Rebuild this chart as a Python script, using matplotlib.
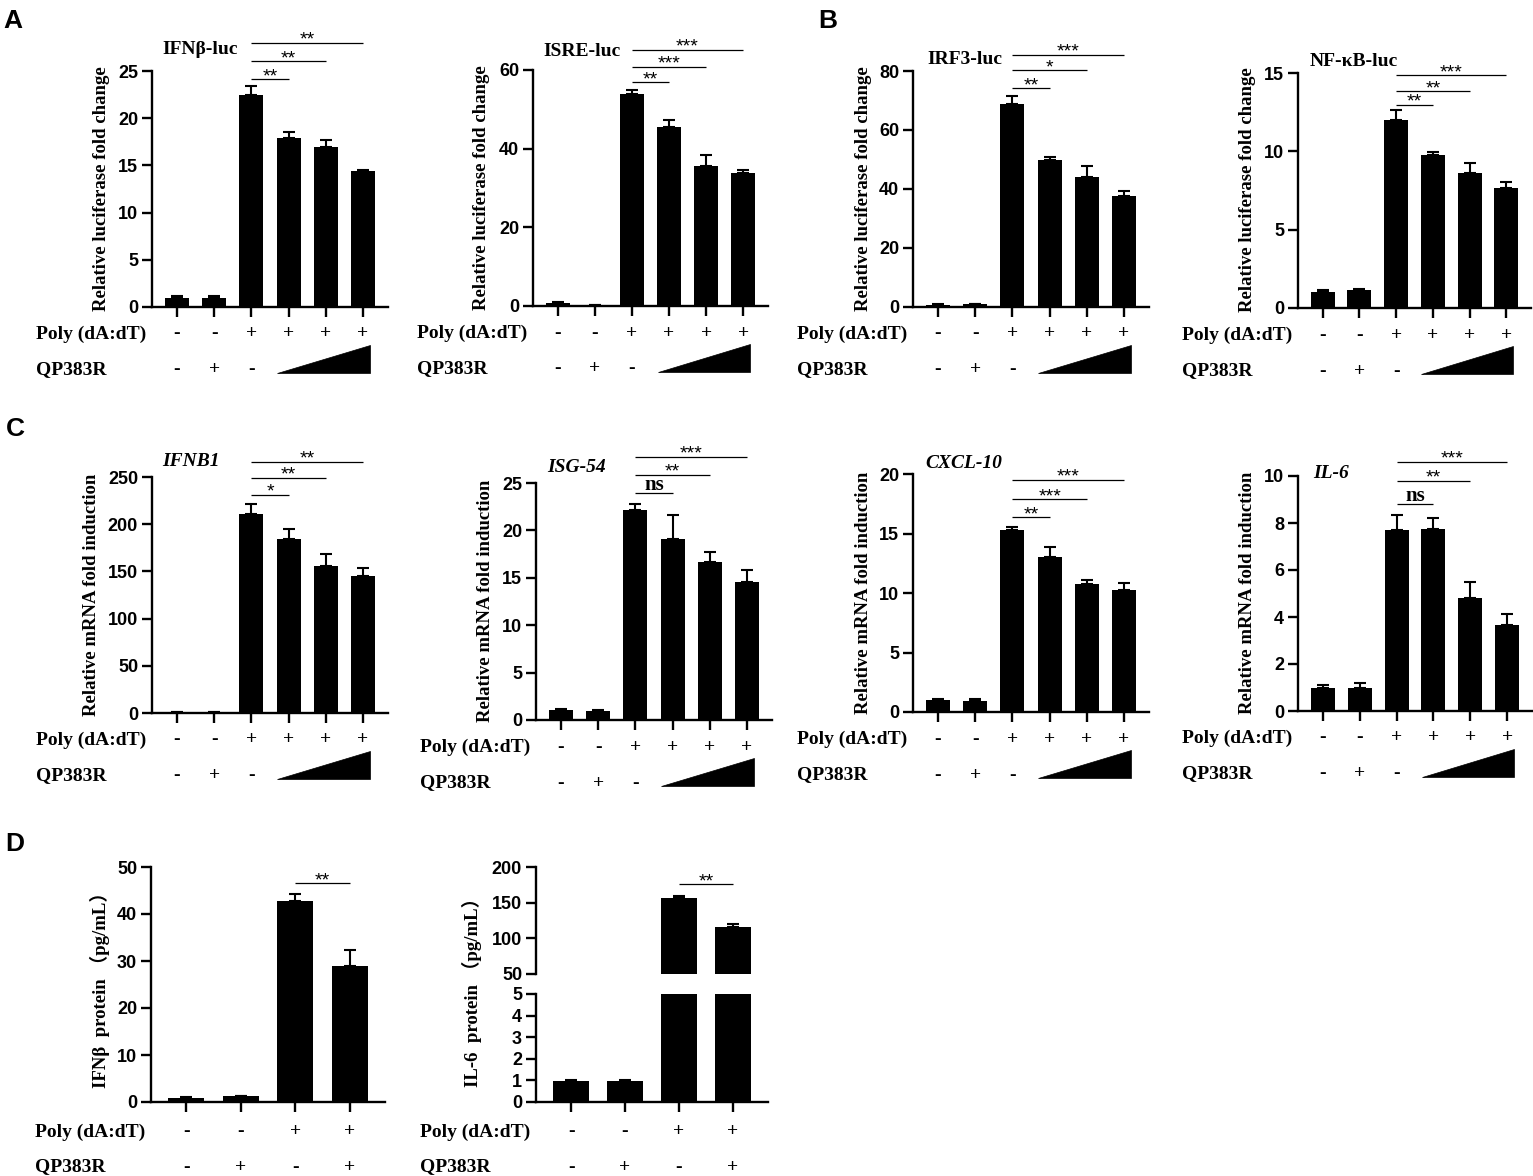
import matplotlib
matplotlib.use('Agg')
import matplotlib.pyplot as plt
from matplotlib import transforms
from matplotlib.patches import Polygon

W, H = 1533, 1176
SERIF = ['Liberation Serif', 'DejaVu Serif']
SERIF_CJK = ['Liberation Serif', 'Noto Sans CJK SC', 'DejaVu Serif']
SANS = ['Liberation Sans', 'DejaVu Sans']
plt.rcParams['font.family'] = SANS

# ---------------- data ----------------
poly6 = ['-', '-', '+', '+', '+', '+']
qp6 = ['-', '+', '-']          # followed by an increasing-dose wedge
poly4 = ['-', '-', '+', '+']
qp4 = ['-', '+', '-', '+']

ifnb_luc_mean = [1.0, 0.95, 22.5, 17.85, 16.95, 14.45]
ifnb_luc_err = [0.13, 0.2, 0.9, 0.7, 0.7, 0.05]
isre_luc_mean = [0.75, 0.25, 53.9, 45.6, 35.6, 33.7]
isre_luc_err = [0.25, 0.08, 1.1, 1.6, 2.7, 0.8]
irf3_luc_mean = [0.8, 0.9, 68.9, 49.8, 44.0, 37.6]
irf3_luc_err = [0.2, 0.2, 2.7, 1.1, 3.8, 1.7]
nfkb_luc_mean = [1.0, 1.12, 12.0, 9.77, 8.64, 7.64]
nfkb_luc_err = [0.12, 0.07, 0.66, 0.17, 0.6, 0.42]

ifnb1_mrna_mean = [1.0, 1.0, 210.5, 184.7, 155.7, 145.1]
ifnb1_mrna_err = [0.3, 0.3, 11.0, 10.6, 13.0, 8.1]
isg54_mrna_mean = [1.02, 0.98, 22.1, 19.07, 16.64, 14.57]
isg54_mrna_err = [0.1, 0.11, 0.67, 2.6, 1.1, 1.23]
cxcl10_mrna_mean = [1.01, 0.96, 15.31, 13.03, 10.76, 10.28]
cxcl10_mrna_err = [0.09, 0.16, 0.2, 0.85, 0.36, 0.53]
il6_mrna_mean = [0.98, 0.98, 7.7, 7.74, 4.79, 3.64]
il6_mrna_err = [0.11, 0.21, 0.65, 0.48, 0.68, 0.5]

ifnb_prot_mean = [0.92, 1.2, 42.84, 28.94]
ifnb_prot_err = [0.14, 0.15, 1.35, 3.5]
il6_prot_mean = [0.975, 0.99, 156.2, 115.7]
il6_prot_err = [0.03, 0.03, 2.8, 4.6]

yt_ifnb_luc = [0, 5, 10, 15, 20, 25]
yt_isre_luc = [0, 20, 40, 60]
yt_irf3_luc = [0, 20, 40, 60, 80]
yt_nfkb_luc = [0, 5, 10, 15]
yt_ifnb1 = [0, 50, 100, 150, 200, 250]
yt_isg54 = [0, 5, 10, 15, 20, 25]
yt_cxcl10 = [0, 5, 10, 15, 20]
yt_il6 = [0, 2, 4, 6, 8, 10]
yt_ifnb_prot = [0, 10, 20, 30, 40, 50]
yt_il6_prot_low = [0, 1, 2, 3, 4, 5]
yt_il6_prot_high = [50, 100, 150, 200]

sig_ifnb_luc = [(2, 3, '**'), (2, 4, '**'), (2, 5, '**')]
sig_isre_luc = [(2, 3, '**'), (2, 4, '***'), (2, 5, '***')]
sig_irf3_luc = [(2, 3, '**'), (2, 4, '*'), (2, 5, '***')]
sig_nfkb_luc = [(2, 3, '**'), (2, 4, '**'), (2, 5, '***')]
sig_ifnb1 = [(2, 3, '*'), (2, 4, '**'), (2, 5, '**')]
sig_isg54 = [(2, 3, 'ns'), (2, 4, '**'), (2, 5, '***')]
sig_cxcl10 = [(2, 3, '**'), (2, 4, '***'), (2, 5, '***')]
sig_il6 = [(2, 3, 'ns'), (2, 4, '**'), (2, 5, '***')]
sig_ifnb_prot = [(2, 3, '**')]
sig_il6_prot = [(2, 3, '**')]

ylab_luc = 'Relative luciferase fold change'
ylab_mrna = 'Relative mRNA fold induction'
ylab_ifnb_prot = 'IFNβ  protein （pg/mL）'
ylab_il6_prot = 'IL-6  protein （pg/mL）'
row1_label = 'Poly (dA:dT)'
row2_label = 'QP383R'

# ---------------- figure ----------------
fig = plt.figure(figsize=(W / 100, H / 100), dpi=100)


def fx(x):
    return x / W


def fy(y):
    return 1 - y / H


def make_ax(box):
    l, t, r, b = box
    return fig.add_axes([l / W, 1 - b / H, (r - l) / W, (b - t) / H])


def style(ax, n, yticks, ylim, bottom=True):
    off = 0.67 if n == 6 else 0.65
    ax.set_xlim(-off, n - 1 + off)
    ax.set_ylim(*ylim)
    ax.set_yticks(yticks, labels=[str(v) for v in yticks],
                  fontweight='bold', fontsize=13, family=SANS)
    ax.spines['top'].set_visible(False)
    ax.spines['right'].set_visible(False)
    ax.spines['left'].set_linewidth(1.7)
    ax.spines['bottom'].set_linewidth(1.7)
    ax.tick_params(axis='y', length=7, width=1.7, pad=3)
    if bottom:
        ax.set_xticks(range(n), labels=[''] * n)
        ax.tick_params(axis='x', length=7, width=1.7)
    else:
        ax.spines['bottom'].set_visible(False)
        ax.set_xticks([])


def draw_bars(ax, mean, err, width):
    n = len(mean)
    x = list(range(n))
    ax.errorbar(x, mean, yerr=[[0] * n, err], fmt='none', ecolor='black',
                elinewidth=1.5, capsize=4.5, capthick=1.5, zorder=1)
    ax.bar(x, mean, width=width, color='black', zorder=2)


def draw_sig(ax, sig, ys, data_y=False):
    trans = ax.transData if data_y else transforms.blended_transform_factory(ax.transData, ax.transAxes)
    for (i, j, lab), y in zip(sig, ys):
        ax.plot([i, j], [y, y], transform=trans, color='black', lw=0.9,
                clip_on=False, solid_capstyle='butt')
        if lab == 'ns':
            t = transforms.offset_copy(trans, fig=fig, y=3, units='dots')
            ax.text((i + j) / 2, y, lab, transform=t, ha='center', va='baseline',
                    family=SERIF, fontweight='bold', fontsize=15)
        else:
            t = transforms.offset_copy(trans, fig=fig, y=-2, units='dots')
            ax.text((i + j) / 2, y, lab, transform=t, ha='center', va='baseline',
                    family=SANS, fontsize=14)


def draw_rows(ax, box, poly, qp, n, offs, wedge=True):
    l, t, r, b = box
    bt = transforms.blended_transform_factory(ax.transData, fig.transFigure)
    for i, s in enumerate(poly):
        ax.text(i, fy(b + offs[0]), s, transform=bt, ha='center', va='center',
                family=SERIF, fontweight='bold', fontsize=14)
    for i, s in enumerate(qp):
        ax.text(i, fy(b + offs[1]), s, transform=bt, ha='center', va='center',
                family=SERIF, fontweight='bold', fontsize=14)
    if wedge:
        tri = Polygon([[2.69, fy(b + 66)], [5.19, fy(b + 66)], [5.19, fy(b + 38)]],
                      closed=True, transform=bt, facecolor='black',
                      edgecolor='black', lw=0.5, clip_on=False)
        ax.add_patch(tri)
    fig.text(fx(l - 116), fy(b + offs[0]), row1_label, ha='left', va='center',
             family=SERIF, fontweight='bold', fontsize=14)
    fig.text(fx(l - 116), fy(b + offs[1]), row2_label, ha='left', va='center',
             family=SERIF, fontweight='bold', fontsize=14)


panels = [
    dict(box=(152, 71, 388, 307), mean=ifnb_luc_mean, err=ifnb_luc_err, yt=yt_ifnb_luc,
         title='IFNβ-luc', it=False, txy=(162, 50), yl=ylab_luc, ylxy=(102, 189),
         sig=sig_ifnb_luc, sy=[0.966, 1.042, 1.119]),
    dict(box=(533, 70, 768, 306), mean=isre_luc_mean, err=isre_luc_err, yt=yt_isre_luc,
         title='ISRE-luc', it=False, txy=(543, 52), yl=ylab_luc, ylxy=(482, 188),
         sig=sig_isre_luc, sy=[0.949, 1.013, 1.085]),
    dict(box=(913, 71, 1149, 307), mean=irf3_luc_mean, err=irf3_luc_err, yt=yt_irf3_luc,
         title='IRF3-luc', it=False, txy=(927, 60), yl=ylab_luc, ylxy=(863, 189),
         sig=sig_irf3_luc, sy=[0.928, 1.004, 1.068]),
    dict(box=(1298, 73, 1531, 308), mean=nfkb_luc_mean, err=nfkb_luc_err, yt=yt_nfkb_luc,
         title='NF-κB-luc', it=False, txy=(1310, 62), yl=ylab_luc, ylxy=(1248, 190),
         sig=sig_nfkb_luc, sy=[0.864, 0.923, 0.991]),
    dict(box=(152, 477, 388, 713), mean=ifnb1_mrna_mean, err=ifnb1_mrna_err, yt=yt_ifnb1,
         title='IFNB1', it=True, txy=(162, 462), yl=ylab_mrna, ylxy=(92, 595),
         sig=sig_ifnb1, sy=[0.924, 0.996, 1.064]),
    dict(box=(536, 483, 772, 720), mean=isg54_mrna_mean, err=isg54_mrna_err, yt=yt_isg54,
         title='ISG-54', it=True, txy=(547, 468), yl=ylab_mrna, ylxy=(485, 601),
         sig=sig_isg54, sy=[0.958, 1.034, 1.11]),
    dict(box=(913, 474, 1149, 712), mean=cxcl10_mrna_mean, err=cxcl10_mrna_err, yt=yt_cxcl10,
         title='CXCL-10', it=True, txy=(925, 463), yl=ylab_mrna, ylxy=(863, 593),
         sig=sig_cxcl10, sy=[0.819, 0.895, 0.975]),
    dict(box=(1298, 476, 1532, 711), mean=il6_mrna_mean, err=il6_mrna_err, yt=yt_il6,
         title='IL-6', it=True, txy=(1313, 473), yl=ylab_mrna, ylxy=(1247, 593),
         sig=sig_il6, sy=[0.881, 0.979, 1.06]),
]

for p in panels:
    ax = make_ax(p['box'])
    yt = p['yt']
    style(ax, 6, yt, (0, yt[-1]))
    draw_bars(ax, p['mean'], p['err'], 0.65)
    draw_sig(ax, p['sig'], p['sy'])
    draw_rows(ax, p['box'], poly6, qp6, 6, (27, 63))
    fig.text(fx(p['txy'][0]), fy(p['txy'][1]), p['title'], ha='left', va='center',
             family=SERIF, fontweight='bold', fontsize=14,
             style='italic' if p['it'] else 'normal')
    fig.text(fx(p['ylxy'][0]), fy(p['ylxy'][1]), p['yl'], rotation=90, ha='center',
             va='center', family=SERIF, fontweight='bold', fontsize=13.5)

# ---- D1: IFNb protein ----
boxD1 = (151, 867, 385, 1102)
ax = make_ax(boxD1)
style(ax, 4, yt_ifnb_prot, (0, yt_ifnb_prot[-1]))
draw_bars(ax, ifnb_prot_mean, ifnb_prot_err, 0.66)
draw_sig(ax, sig_ifnb_prot, [0.932])
draw_rows(ax, boxD1, poly4, qp4, 4, (30, 65), wedge=False)
fig.text(fx(100), fy(985), ylab_ifnb_prot, rotation=90, ha='center', va='center',
         family=SERIF_CJK, fontweight='bold', fontsize=13.5)

# ---- D2: IL-6 protein (broken axis) ----
boxD2_hi = (536, 867, 768, 974)
boxD2_lo = (536, 994, 768, 1102)
ax_hi = make_ax(boxD2_hi)
ax_lo = make_ax(boxD2_lo)
style(ax_hi, 4, yt_il6_prot_high, (yt_il6_prot_high[0], yt_il6_prot_high[-1]), bottom=False)
style(ax_lo, 4, yt_il6_prot_low, (0, yt_il6_prot_low[-1]))
draw_bars(ax_hi, il6_prot_mean, il6_prot_err, 0.66)
draw_bars(ax_lo, il6_prot_mean, il6_prot_err, 0.66)
draw_sig(ax_hi, sig_il6_prot, [176], data_y=True)
draw_rows(ax_lo, boxD2_lo, poly4, qp4, 4, (30, 65), wedge=False)
fig.text(fx(472), fy(988), ylab_il6_prot, rotation=90, ha='center', va='center',
         family=SERIF_CJK, fontweight='bold', fontsize=13.5)

# ---- panel letters ----
for lab, (x, y) in {'A': (3, 9), 'B': (818, 9), 'C': (6, 417), 'D': (5, 832)}.items():
    fig.text(fx(x), fy(y), lab, ha='left', va='top', family=SANS,
             fontweight='bold', fontsize=19)

fig.savefig('out.png', dpi=100)
